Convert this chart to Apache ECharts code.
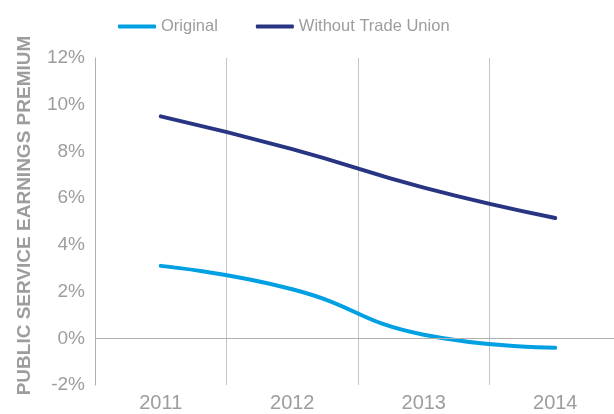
<!DOCTYPE html>
<html>
<head>
<meta charset="utf-8">
<script src="https://cdn.jsdelivr.net/npm/echarts@6/dist/echarts.min.js"></script>
<style>
html,body{margin:0;padding:0;background:#fff;}
#chart{width:614px;height:414px;}
</style>
</head>
<body>
<div id="chart"></div>
<script>
var categories = ['2011', '2012', '2013', '2014'];
var originalValues = [3.1, 2.1, 0.15, -0.4];
var withoutUnionValues = [9.5, 8.1, 6.45, 5.15];
var seriesNames = ['Original', 'Without Trade Union'];
var yAxisName = 'PUBLIC SERVICE EARNINGS PREMIUM';

var grey = '#9d9d9d';
var font = 'Liberation Sans, Arial, Helvetica, sans-serif';
var chart = echarts.init(document.getElementById('chart'));
chart.setOption({
  animation: false,
  legend: {
    top: 18,
    left: 118,
    padding: 0,
    itemGap: 38,
    itemWidth: 38,
    itemHeight: 4,
    icon: 'roundRect',
    textStyle: { color: grey, fontSize: 16.5, fontFamily: font },
    data: seriesNames
  },
  grid: { left: 95, right: -7, top: 58, bottom: 29, containLabel: false, outerBoundsMode: 'none' },
  xAxis: {
    type: 'category',
    data: categories,
    boundaryGap: true,
    axisLine: { show: false },
    axisTick: { show: false },
    axisLabel: { color: grey, fontSize: 20, fontFamily: font, margin: 8 },
    splitLine: { show: true, lineStyle: { color: '#c4c4c4', width: 1 } }
  },
  yAxis: {
    type: 'value',
    min: -2,
    max: 12,
    interval: 2,
    name: yAxisName,
    nameLocation: 'middle',
    nameGap: 61,
    nameTextStyle: { color: grey, fontSize: 19, fontWeight: 'bold', fontFamily: font, padding: [0, 0, 0, 12] },
    axisLine: { show: true, lineStyle: { color: '#b0b0b0', width: 1 } },
    axisTick: { show: false },
    splitLine: { show: false },
    axisLabel: { color: grey, fontSize: 19, fontFamily: font, margin: 10, formatter: '{value}%' }
  },
  series: [
    {
      name: seriesNames[0],
      type: 'line',
      data: originalValues,
      smooth: true,
      symbol: 'none',
      lineStyle: { color: '#00a0e3', width: 4, cap: 'round' },
      itemStyle: { color: '#00a0e3' },
      markLine: {
        silent: true,
        symbol: 'none',
        label: { show: false },
        lineStyle: { color: '#b0b0b0', width: 1, type: 'solid' },
        data: [{ yAxis: 0 }]
      },
      z: 3
    },
    {
      name: seriesNames[1],
      type: 'line',
      data: withoutUnionValues,
      smooth: true,
      symbol: 'none',
      lineStyle: { color: '#283583', width: 4, cap: 'round' },
      itemStyle: { color: '#283583' },
      z: 3
    }
  ]
});
</script>
</body>
</html>
